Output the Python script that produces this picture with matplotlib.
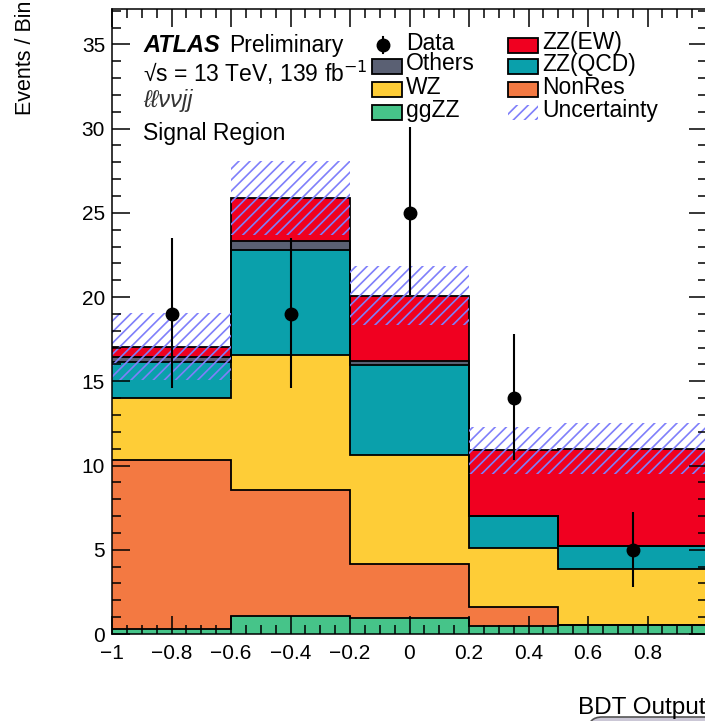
import numpy as np
import matplotlib.pyplot as plt
from matplotlib.patches import Rectangle, FancyBboxPatch
from matplotlib.ticker import MultipleLocator

plt.rcParams['font.family'] = ['Liberation Sans', 'DejaVu Sans']
plt.rcParams['hatch.linewidth'] = 1.2

# BDT output bins
edges = [-1.0, -0.6, -0.2, 0.2, 0.5, 1.0]

# stacked backgrounds, bottom to top
ggzz = [0.3, 1.05, 0.97, 0.5, 0.55]
nonres = [10.04, 7.5, 3.2, 1.13, 0.0]
wz = [3.66, 8.0, 6.43, 3.47, 3.3]
zz_qcd = [2.15, 6.25, 5.37, 1.88, 1.35]
others = [0.3, 0.5, 0.23, 0.05, 0.05]
zz_ew = [0.61, 2.57, 3.88, 3.88, 5.75]
uncert = [2.0, 2.2, 1.75, 1.4, 1.5]

data = [19, 19, 25, 14, 5]
data_up = [4.5, 4.5, 5.1, 3.8, 2.25]
data_dn = [4.4, 4.4, 4.9, 3.7, 2.2]

stack = [
    ('ggZZ', ggzz, '#46c489'),
    ('NonRes', nonres, '#f37942'),
    ('WZ', wz, '#fecd37'),
    ('ZZ(QCD)', zz_qcd, '#0aa0ab'),
    ('Others', others, '#5a6073'),
    ('ZZ(EW)', zz_ew, '#f00020'),
]
hatch_col = '#7f7ffa'

W, H = 705, 721
fig = plt.figure(figsize=(W / 100, H / 100), dpi=100)


def fx(px):
    return px / W


def fy(py):
    return 1 - py / H


ax = fig.add_axes([fx(112), fy(634), (707 - 112) / W, (634 - 9) / H])

e = np.array(edges)
widths = np.diff(e)
centers = 0.5 * (e[:-1] + e[1:])
bottom = np.zeros(len(widths))
for name, vals, col in stack:
    v = np.array(vals)
    ax.bar(e[:-1], v, width=widths, bottom=bottom, align='edge',
           color=col, lw=0, zorder=1)
    bottom = bottom + v
    ax.stairs(bottom, e, baseline=None, color='black', lw=1.3, zorder=1.2)

total = bottom
unc = np.array(uncert)
ax.bar(e[:-1], 2 * unc, width=widths, bottom=total - unc, align='edge',
       fill=False, hatch='///', edgecolor=hatch_col, lw=0, zorder=1.4)

ax.errorbar(centers, data, yerr=[data_dn, data_up], fmt='o', color='black',
            ms=9, elinewidth=1.5, capsize=0, zorder=3)

ax.set_xlim(-1, 1)
ax.set_ylim(0, 37.1)
ax.xaxis.set_major_locator(MultipleLocator(0.2))
ax.xaxis.set_minor_locator(MultipleLocator(0.05))
ax.yaxis.set_major_locator(MultipleLocator(5))
ax.yaxis.set_minor_locator(MultipleLocator(1))
ax.tick_params(which='both', direction='in', top=True, right=True, width=1.1,
               labelsize=15)
ax.tick_params(which='major', length=13)
ax.tick_params(which='minor', length=6.5)
ax.tick_params(axis='x', pad=7)
ax.tick_params(axis='y', pad=5)
ax.set_axisbelow(False)
for s in ax.spines.values():
    s.set_linewidth(1.1)
ax.set_xticks([-1, -0.8, -0.6, -0.4, -0.2, 0, 0.2, 0.4, 0.6, 0.8])
ax.set_xticklabels(['\u22121', '\u22120.8', '\u22120.6', '\u22120.4', '\u22120.2',
                    '0', '0.2', '0.4', '0.6', '0.8'])

# labels
fig.text(fx(26), fy(1), 'Events / Bin', rotation=90, ha='center', va='top',
         fontsize=15.5)
fig.text(fx(578), fy(714), 'BDT Output', ha='left', va='baseline', fontsize=17.5)
fig.patches.append(FancyBboxPatch((fx(588), fy(737)), fx(140), 20 / H,
                                  boxstyle='round,pad=0,rounding_size=0.02',
                                  transform=fig.transFigure, facecolor='#cbc7d6',
                                  edgecolor='#555555', lw=1.2))

# ATLAS label
fig.text(fx(143), fy(52), 'ATLAS', fontsize=17, fontweight='bold',
         fontstyle='italic', va='baseline')
fig.text(fx(229), fy(52), 'Preliminary', fontsize=16.5, va='baseline')
fig.text(fx(143), fy(82), '\u221as = 13 TeV, 139 fb$^{-1}$', fontsize=16.5,
         va='baseline')
fig.text(fx(143), fy(107), '\u2113\u2113\u03bd\u03bdjj', fontsize=17,
         fontstyle='italic', va='baseline', color='#333333')
fig.text(fx(143), fy(140), 'Signal Region', fontsize=16.5, va='baseline')

# legend drawn by hand
col = dict((n, c) for n, v, c in stack)
rows = [45, 66, 89, 112]
entries1 = [('Data', None), ('Others', col['Others']), ('WZ', col['WZ']),
            ('ggZZ', col['ggZZ'])]
entries2 = [('ZZ(EW)', col['ZZ(EW)']), ('ZZ(QCD)', col['ZZ(QCD)']),
            ('NonRes', col['NonRes']), ('Uncertainty', 'hatch')]
for (lab, c), ry in zip(entries1, rows):
    if c is None:
        fig.add_artist(plt.Line2D([fx(383), fx(383)], [fy(ry - 8), fy(ry + 8)],
                                  color='black', lw=1.5,
                                  transform=fig.transFigure))
        fig.add_artist(plt.Line2D([fx(383)], [fy(ry)], marker='o', ms=9,
                                  color='black', transform=fig.transFigure))
    else:
        fig.add_artist(Rectangle((fx(372), fy(ry + 7.5)), 30 / W, 15 / H,
                                 facecolor=c, edgecolor='black', lw=1.3,
                                 transform=fig.transFigure))
    fig.text(fx(406), fy(ry + 4.5), lab, fontsize=16.5, va='baseline')
for (lab, c), ry in zip(entries2, rows):
    if c == 'hatch':
        fig.add_artist(Rectangle((fx(508), fy(ry + 7.5)), 30 / W, 15 / H,
                                 fill=False, hatch='///', edgecolor=hatch_col,
                                 lw=0, transform=fig.transFigure))
    else:
        fig.add_artist(Rectangle((fx(508), fy(ry + 7.5)), 30 / W, 15 / H,
                                 facecolor=c, edgecolor='black', lw=1.3,
                                 transform=fig.transFigure))
    fig.text(fx(542), fy(ry + 4.5), lab, fontsize=16.5, va='baseline')

fig.savefig('out.png', dpi=100)
